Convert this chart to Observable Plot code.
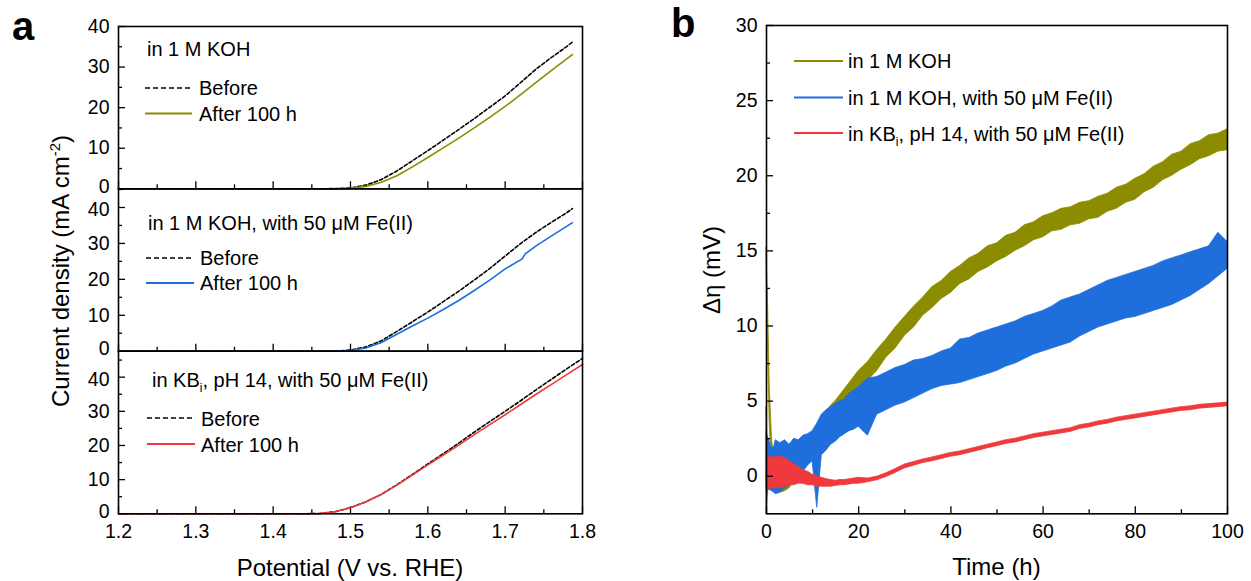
<!DOCTYPE html>
<html>
<head>
<meta charset="utf-8">
<script src="https://cdn.jsdelivr.net/npm/d3@7"></script>
<script src="https://cdn.jsdelivr.net/npm/@observablehq/plot@0.6"></script>
<style>
  body { margin: 0; background: #fff; }
  #root { position: relative; width: 1251px; height: 581px; overflow: hidden; background: #fff;
          font-family: "Liberation Sans", Arial, Helvetica, sans-serif; }
  #root > svg { position: absolute; left: 0; top: 0; }
  #root svg, #root svg text { font-family: "Liberation Sans", Arial, Helvetica, sans-serif !important; }
</style>
</head>
<body>
<div id="root"></div>
<script>
// ---------------- Panel a data (LSV) ----------------
const potentialKOH   = [1.20,1.30,1.40,1.46,1.48,1.50,1.52,1.54,1.56,1.58,1.60,1.62,1.64,1.66,1.68,1.70,1.72,1.74,1.76,1.78,1.787];
const beforeKOH      = [0,0,0,0,0.05,0.2,0.9,2.3,4.4,6.9,9.4,12.0,14.6,17.3,20.1,22.9,26.2,29.5,32.4,35.1,36.2];
const afterKOH       = [0,0,0,0,0.03,0.15,0.6,1.6,3.2,5.4,7.7,10.1,12.5,15.0,17.6,20.3,23.2,26.2,29.2,32.1,33.1];

const potentialKOHFe = [1.20,1.30,1.40,1.46,1.48,1.50,1.52,1.54,1.56,1.58,1.60,1.62,1.64,1.66,1.68,1.70,1.722,1.726,1.74,1.76,1.78,1.787];
const beforeKOHFe    = [0,0,0,0,0.05,0.3,1.2,2.9,5.5,8.2,10.9,13.8,16.7,19.8,23.0,26.5,30.3,30.9,33.1,35.9,38.6,39.7];
const afterKOHFe     = [0,0,0,0,0.02,0.2,0.9,2.4,4.7,7.0,9.2,11.6,14.1,16.9,19.8,22.9,25.7,27.1,29.3,32.1,34.8,35.8];

const potentialKBi   = [1.20,1.30,1.40,1.44,1.46,1.48,1.50,1.52,1.54,1.56,1.58,1.60,1.62,1.64,1.66,1.68,1.70,1.72,1.74,1.76,1.78,1.80];
const beforeKBi      = [0,0,0,0,0.1,0.6,1.8,3.5,5.7,8.5,11.5,14.6,17.6,20.7,23.9,27.0,30.0,33.1,36.3,39.4,42.5,45.5];
const afterKBi       = [0,0,0,0,0.1,0.6,1.8,3.5,5.7,8.4,11.3,14.3,17.2,20.1,23.2,26.1,29.0,32.0,35.0,37.9,40.8,43.7];

const lsvXMajor = [1.2,1.3,1.4,1.5,1.6,1.7,1.8];
const lsvXMinor = [1.25,1.35,1.45,1.55,1.65,1.75];
const lsvYMajor = [0,10,20,30,40];
const lsvYMinor = [5,15,25,35,45];

// ---------------- Panel b data (Δη vs time) ----------------
const timeH = [0,0.3,0.7,1.2,1.7,
  2,3,4,5,6,7,8,9,10,11,12,13,14,15,16,17,18,19,20,
  22,24,26,28,30,32,34,36,38,40,42,44,46,48,50,52,54,56,58,60,
  62,64,66,68,70,72,74,76,78,80,82,84,86,88,90,92,94,96,98,100];

const kohLo = [13.5,9.0,3.5,0.5,-0.5,
  -0.8,-1.1,-1.0,-0.8,-0.4,0.0,0.5,1.0,1.6,2.2,2.6,3.0,3.4,3.7,4.1,4.5,4.9,5.3,5.7,
  6.35,7.0,7.9,8.5,9.35,9.9,10.7,11.2,11.8,12.2,12.8,13.1,13.6,13.9,14.3,14.6,15.0,15.3,15.7,15.9,
  16.3,16.4,16.7,16.8,17.1,17.2,17.6,17.8,18.2,18.4,18.9,19.2,19.7,20.0,20.4,20.7,21.1,21.3,21.6,21.7];
const kohHi = [15.2,12.0,6.0,2.5,1.0,
  0.5,0.3,0.4,0.7,1.0,1.4,1.9,2.4,2.9,3.4,3.9,4.3,4.7,5.0,5.4,5.8,6.2,6.6,7.0,
  7.6,8.4,9.1,9.9,10.6,11.3,11.9,12.6,13.0,13.6,14.0,14.5,14.8,15.3,15.5,16.0,16.2,16.7,16.9,17.3,
  17.5,17.8,17.9,18.2,18.3,18.6,18.8,19.2,19.4,19.8,20.1,20.6,20.9,21.4,21.6,22.1,22.3,22.7,22.8,23.1];

const kohFeLo = [-2.5,-1.0,-0.9,-1.0,-1.1,
  -1.2,-1.1,-0.8,-0.6,-0.4,-0.2,0.3,0.7,1.0,-2.1,1.4,1.7,2.1,2.3,2.6,2.8,3.0,3.1,3.3,
  2.7,4.1,4.4,4.7,4.9,5.2,5.5,5.8,6.0,6.1,6.2,6.4,6.6,6.8,7.0,7.3,7.5,7.8,8.1,8.3,
  8.5,8.7,8.9,9.3,9.6,9.9,10.1,10.3,10.5,10.6,10.8,11.0,11.2,11.4,11.7,12.0,12.4,12.8,13.3,13.8];
const kohFeHi = [3.0,2.6,2.3,1.8,2.0,
  2.4,2.2,2.4,2.1,2.5,2.4,2.7,2.8,3.0,3.5,4.1,4.4,4.6,4.8,5.0,5.1,5.5,5.7,5.9,
  6.5,6.6,6.9,7.2,7.4,7.7,7.8,8.0,8.3,8.5,9.1,9.2,9.5,9.7,9.9,10.1,10.3,10.6,10.8,11.0,
  11.3,11.7,11.9,12.1,12.4,12.7,13.0,13.2,13.4,13.6,13.8,14.0,14.3,14.5,14.7,14.9,15.1,15.3,16.2,15.6];

const kbiLo = [-1.0,-0.9,-0.9,-0.8,-0.8,
  -0.8,-0.8,-0.7,-0.6,-0.6,-0.5,-0.5,-0.6,-0.6,-0.7,-0.7,-0.7,-0.7,-0.65,-0.6,-0.6,-0.55,-0.5,-0.5,
  -0.4,-0.27,-0.05,0.22,0.52,0.7,0.88,1.0,1.15,1.3,1.4,1.55,1.7,1.86,2.0,2.15,2.25,2.4,2.55,2.65,
  2.75,2.85,2.95,3.15,3.25,3.4,3.5,3.65,3.75,3.85,3.95,4.05,4.15,4.25,4.35,4.4,4.5,4.55,4.6,4.65];
const kbiHi = [4.6,1.4,1.3,1.2,1.3,
  1.3,1.3,1.2,1.0,0.8,0.6,0.4,0.3,0.1,0.0,-0.1,-0.2,-0.25,-0.3,-0.25,-0.25,-0.2,-0.15,-0.1,
  -0.15,-0.03,0.2,0.48,0.78,0.95,1.12,1.25,1.4,1.55,1.65,1.8,1.95,2.1,2.25,2.4,2.5,2.65,2.8,2.9,
  3.0,3.1,3.2,3.4,3.5,3.65,3.75,3.9,4.0,4.1,4.2,4.3,4.4,4.5,4.6,4.65,4.75,4.8,4.85,4.9];

const timeMajor = [0,20,40,60,80,100];
const timeMinor = [10,30,50,70,90];
const etaMajor  = [0,5,10,15,20,25,30];
const etaMinor  = [2.5,7.5,12.5,17.5,22.5,27.5];

// ---------------- Styling ----------------
const FONT = "Liberation Sans, Arial, Helvetica, sans-serif";
const OLIVE = "#8c8c00", BLUE = "#1e6fdc", RED = "#f0393c", BLACK = "#000";
const W = 1251;
const root = document.getElementById("root");
const baseStyle = {background: "transparent", overflow: "visible", fontFamily: FONT, fontSize: "20px", color: "#000"};
const tickSt = {stroke: BLACK, strokeWidth: 1.3};
const TF = 19.5; // tick label font size

function lsvPlot(V, before, after, color, yMax, top, bottom, showX, hasPanelAbove) {
  const L = 118, R = 582;
  const H = showX ? 545 : Math.ceil(bottom) + 4;
  const fw = R - L, fh = bottom - top;
  const rows = V.map((v, i) => ({v, before: before[i], after: after[i]}));
  const yAx = {tickSize: 0, tickPadding: 9, fontSize: TF, label: null};
  return Plot.plot({
    width: W, height: H,
    marginLeft: L, marginRight: W - R, marginTop: top, marginBottom: H - bottom,
    style: baseStyle,
    x: {domain: [1.2, 1.8], axis: null},
    y: {domain: [0, yMax], axis: null},
    marks: [
      Plot.tickX(lsvXMinor, {insetTop: fh - 4, ...tickSt}),
      Plot.tickX(lsvXMajor, {insetTop: fh - 7, ...tickSt}),
      Plot.tickY(lsvYMinor.filter(d => d < yMax), {insetRight: fw - 4, ...tickSt}),
      Plot.tickY(lsvYMajor, {insetRight: fw - 7, ...tickSt}),
      Plot.axisY(lsvYMajor.slice(1, -1), yAx),
      Plot.axisY(lsvYMajor.slice(0, 1), {...yAx, dy: -2.5}),
      Plot.axisY(lsvYMajor.slice(-1), {...yAx, dy: hasPanelAbove ? 2.5 : 0}),
      showX ? Plot.axisX(lsvXMajor, {tickSize: 0, tickPadding: 10, fontSize: TF, label: null, tickFormat: d => d.toFixed(1)}) : null,
      Plot.line(rows, {x: "v", y: "before", stroke: BLACK, strokeWidth: 1.6, strokeDasharray: "3.5,2.2"}),
      Plot.line(rows, {x: "v", y: "after", stroke: color, strokeWidth: 1.6}),
      Plot.frame({stroke: BLACK, strokeWidth: 1.6})
    ]
  });
}

root.appendChild(lsvPlot(potentialKOH, beforeKOH, afterKOH, OLIVE, 40, 26, 188.3, false, false));
root.appendChild(lsvPlot(potentialKOHFe, beforeKOHFe, afterKOHFe, BLUE, 45.2, 188.3, 350.7, false, true));
root.appendChild(lsvPlot(potentialKBi, beforeKBi, afterKBi, RED, 47.6, 350.7, 513.3, true, true));

// Panel b
const band = (lo, hi) => timeH.map((t, i) => ({t, lo: lo[i], hi: hi[i]}));
const bTop = 25, bBottom = 513.3, bL = 766, bR = 1227, bH = 545;
const bfw = bR - bL, bfh = bBottom - bTop;
root.appendChild(Plot.plot({
  width: W, height: bH,
  marginLeft: bL, marginRight: W - bR, marginTop: bTop, marginBottom: bH - bBottom,
  style: baseStyle,
  x: {domain: [0, 100], axis: null},
  y: {domain: [-2.5, 30], axis: null},
  marks: [
    Plot.areaY(band(kohLo, kohHi), {x: "t", y1: "lo", y2: "hi", fill: OLIVE, stroke: OLIVE, strokeWidth: 0.8}),
    Plot.areaY(band(kohFeLo, kohFeHi), {x: "t", y1: "lo", y2: "hi", fill: BLUE, stroke: BLUE, strokeWidth: 0.8}),
    Plot.areaY(band(kbiLo, kbiHi), {x: "t", y1: "lo", y2: "hi", fill: RED, stroke: RED, strokeWidth: 0.8}),
    Plot.tickX(timeMinor, {insetTop: bfh - 4, ...tickSt}),
    Plot.tickX(timeMajor, {insetTop: bfh - 7, ...tickSt}),
    Plot.tickY(etaMinor, {insetRight: bfw - 4, ...tickSt}),
    Plot.tickY(etaMajor, {insetRight: bfw - 7, ...tickSt}),
    Plot.axisY(etaMajor, {tickSize: 0, tickPadding: 9, fontSize: TF, label: null}),
    Plot.axisX(timeMajor, {tickSize: 0, tickPadding: 10, fontSize: TF, label: null}),
    Plot.frame({stroke: BLACK, strokeWidth: 1.6})
  ]
}));

// Annotations overlay (titles, legends, panel letters)
const ov = `
<svg xmlns="http://www.w3.org/2000/svg" width="1251" height="581" style="position:absolute;left:0;top:0;fill:#000" font-family="${FONT}">
  <text x="12" y="40" font-size="40" font-weight="bold">a</text>
  <text x="671" y="37" font-size="40" font-weight="bold">b</text>

  <text transform="translate(69,271) rotate(-90)" text-anchor="middle" font-size="24">Current density (mA cm<tspan dy="-9" font-size="15">-2</tspan><tspan dy="9">)</tspan></text>
  <text x="350" y="576" text-anchor="middle" font-size="24">Potential (V vs. RHE)</text>

  <text transform="translate(720,270) rotate(-90)" text-anchor="middle" font-size="24">Δη (mV)</text>
  <text x="996.5" y="575" text-anchor="middle" font-size="24">Time (h)</text>

  <g font-size="20">
    <text x="147" y="56">in 1 M KOH</text>
    <line x1="145" x2="190" y1="88" y2="88" stroke="#000" stroke-width="1.6" stroke-dasharray="5,3"/>
    <text x="199" y="95">Before</text>
    <line x1="145" x2="192" y1="113.5" y2="113.5" stroke="${OLIVE}" stroke-width="1.8"/>
    <text x="199" y="120.5">After 100 h</text>

    <text x="148" y="230">in 1 M KOH, with 50 μM Fe(II)</text>
    <line x1="146" x2="192" y1="258" y2="258" stroke="#000" stroke-width="1.6" stroke-dasharray="5,3"/>
    <text x="200" y="265">Before</text>
    <line x1="146" x2="194" y1="283" y2="283" stroke="${BLUE}" stroke-width="1.8"/>
    <text x="200" y="290">After 100 h</text>

    <text x="152" y="386.5">in KB<tspan dy="5" font-size="12">i</tspan><tspan dy="-5">, pH 14, with 50 μM Fe(II)</tspan></text>
    <line x1="147" x2="193" y1="418" y2="418" stroke="#000" stroke-width="1.6" stroke-dasharray="5,3"/>
    <text x="201" y="425.5">Before</text>
    <line x1="147" x2="195" y1="444" y2="444" stroke="${RED}" stroke-width="1.8"/>
    <text x="201" y="451.5">After 100 h</text>

    <line x1="794" x2="843" y1="61" y2="61" stroke="${OLIVE}" stroke-width="1.8"/>
    <text x="848" y="68">in 1 M KOH</text>
    <line x1="794" x2="843" y1="97.5" y2="97.5" stroke="${BLUE}" stroke-width="1.8"/>
    <text x="848" y="104.5">in 1 M KOH, with 50 μM Fe(II)</text>
    <line x1="794" x2="843" y1="133" y2="133" stroke="${RED}" stroke-width="1.8"/>
    <text x="848" y="140.5">in KB<tspan dy="5" font-size="12">i</tspan><tspan dy="-5">, pH 14, with 50 μM Fe(II)</tspan></text>
  </g>
</svg>`;
root.insertAdjacentHTML("beforeend", ov);
</script>
</body>
</html>
